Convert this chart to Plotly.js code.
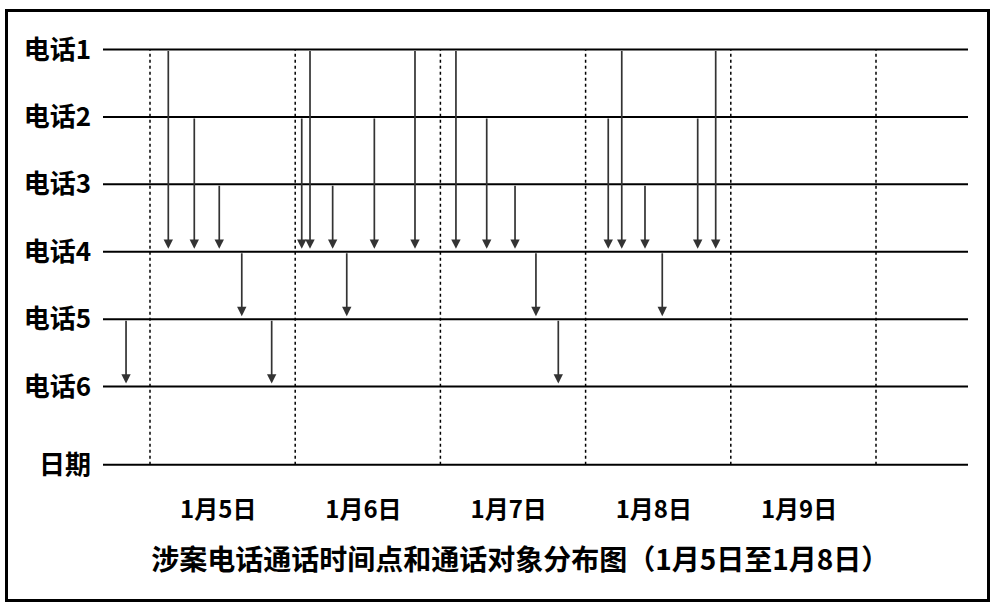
<!DOCTYPE html>
<html>
<head>
<meta charset="utf-8">
<script src="https://cdn.plot.ly/plotly-3.0.1.min.js"></script>
<style>
  html, body { margin: 0; padding: 0; background: #fff; }
  #wrap { position: relative; width: 993px; height: 608px; }
  #frame { position: absolute; left: 5px; top: 9px; width: 979px; height: 587px; border: 3px solid #000; pointer-events: none; }
  #chart { position: absolute; left: 0; top: 0; width: 993px; height: 608px; }
</style>
</head>
<body>
<div id="wrap">
  <div id="chart"></div>
  <div id="frame"></div>
</div>
<script>
// ---- data ----
const phoneLabels = ['电话1', '电话2', '电话3', '电话4', '电话5', '电话6'];
const dateRowLabel = '日期';
const dayStarts = [5, 6, 7, 8, 9, 10];
const dayLabels = ['1月5日', '1月6日', '1月7日', '1月8日', '1月9日'];
// call moments (day of January, fractional) and caller -> callee phone numbers
const callTime = [4.835, 5.126, 5.305, 5.477, 5.632, 5.838,
                  6.045, 6.102, 6.258, 6.355, 6.545, 6.825,
                  7.107, 7.319, 7.514, 7.658, 7.812,
                  8.156, 8.249, 8.409, 8.528, 8.772, 8.896];
const callFrom = [5, 1, 2, 3, 4, 5,
                  2, 1, 3, 4, 2, 1,
                  1, 2, 3, 4, 5,
                  2, 1, 3, 4, 2, 1];
const callTo   = [6, 4, 4, 4, 5, 6,
                  4, 4, 4, 5, 4, 4,
                  4, 4, 4, 5, 6,
                  4, 4, 4, 5, 4, 4];
const chartTitle = '涉案电话通话时间点和通话对象分布图（1月5日至1月8日）';

// ---- layout helpers ----
const nPhones = phoneLabels.length;
const level = p => nPhones + 1 - p;        // phone number -> y level
const dateLevel = -0.16;
const yTickVals = phoneLabels.map((_, i) => level(i + 1)).concat([dateLevel]);
const yTickText = phoneLabels.concat([dateRowLabel]);

const shapes = [];
yTickVals.forEach(v => shapes.push({
  type: 'line', xref: 'paper', yref: 'y', x0: 0, x1: 1, y0: v, y1: v,
  line: { color: '#000', width: 2 }
}));
dayStarts.forEach(d => shapes.push({
  type: 'line', xref: 'x', yref: 'y', x0: d, x1: d, y0: dateLevel, y1: level(1),
  line: { color: '#000', width: 1.5, dash: 'dot' }
}));

const annotations = callTime.map((t, i) => ({
  x: t, y: level(callTo[i]), ax: t, ay: level(callFrom[i]),
  xref: 'x', yref: 'y', axref: 'x', ayref: 'y',
  text: '', showarrow: true, arrowhead: 2, arrowsize: 1.1, arrowwidth: 1.7,
  arrowcolor: '#333', standoff: 3
}));

const fontFam = '"Noto Sans CJK SC", "Noto Sans", sans-serif';

const trace = {
  x: callTime, y: callTo.map(level), type: 'scatter', mode: 'markers',
  marker: { size: 1, color: 'rgba(0,0,0,0)' }, hoverinfo: 'skip', showlegend: false
};

const layout = {
  width: 993, height: 608,
  margin: { l: 103, r: 25, t: 36, b: 127 },
  paper_bgcolor: '#fff', plot_bgcolor: '#fff',
  showlegend: false,
  title: {
    text: chartTitle,
    font: { family: fontFam, size: 28, color: '#000', weight: 'bold' },
    xref: 'container', yref: 'container', x: 0.524, xanchor: 'center',
    y: 1 - 560 / 608, yanchor: 'middle'
  },
  xaxis: {
    range: [4.6763, 10.6336], showgrid: false, zeroline: false, showline: false,
    tickvals: dayLabels.map((_, i) => dayStarts[i] + 0.47), ticktext: dayLabels,
    ticks: '', ticklabelstandoff: 12,
    tickfont: { family: fontFam, size: 24, color: '#000', weight: 'bold' },
    fixedrange: true
  },
  yaxis: {
    range: [-0.4, 6.2], showgrid: false, zeroline: false, showline: false,
    tickvals: yTickVals, ticktext: yTickText, ticks: '', ticklabelstandoff: 11,
    tickfont: { family: fontFam, size: 26, color: '#000', weight: 'bold' },
    fixedrange: true
  },
  shapes: shapes,
  annotations: annotations
};

Plotly.newPlot('chart', [trace], layout, { displayModeBar: false, staticPlot: true });
</script>
</body>
</html>
